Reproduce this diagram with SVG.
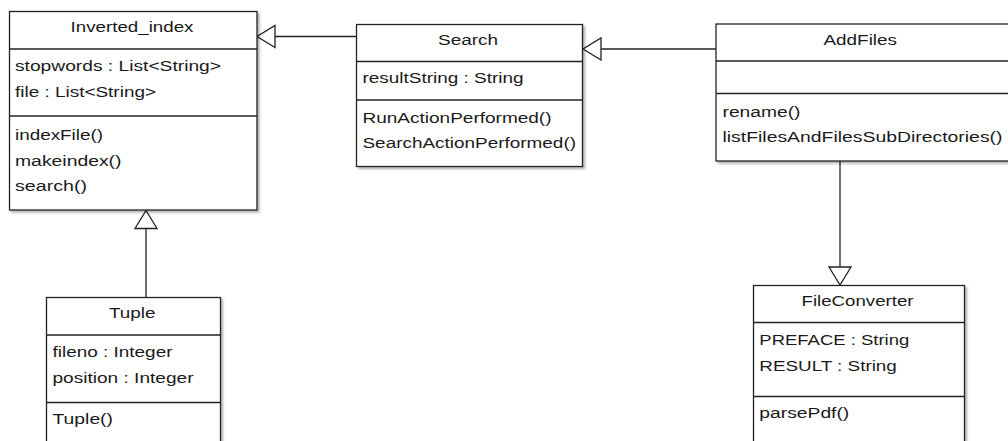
<svg xmlns="http://www.w3.org/2000/svg" width="1008" height="441" viewBox="0 0 1008 441">
  <defs>
    <filter id="shadow" x="-5%" y="-5%" width="115%" height="115%">
      <feDropShadow dx="2" dy="2" stdDeviation="1" flood-color="#000" flood-opacity="0.3"/>
    </filter>
    <!-- hollow triangle for generalization -->
    <marker id="inherit" viewBox="0 0 18 22" refX="18" refY="11" markerWidth="18" markerHeight="22"
            markerUnits="userSpaceOnUse" orient="auto" overflow="visible">
      <path d="M0,0 L18,11 L0,22 Z" fill="#fff" stroke="#222" stroke-width="1.3"/>
    </marker>
  </defs>
  <style>
    .box { fill: #fff; stroke: #222; stroke-width: 1.3; filter: url(#shadow); }
    .sep { stroke: #222; stroke-width: 1.3; }
    .edge { fill: none; stroke: #222; stroke-width: 1.3; marker-end: url(#inherit); }
    text { font-family: "Liberation Sans", Arial, sans-serif; font-size: 14px; fill: #1a1a1a; }
  </style>

  <rect width="1008" height="441" fill="#fff"/>

  <!-- connectors -->
  <g id="connectors">
    <path class="edge" d="M356.5,36.5 H257"/>
    <path class="edge" d="M716,49 H583"/>
    <path class="edge" d="M146,297.5 V210.5"/>
    <path class="edge" d="M840,161 V285"/>
  </g>

  <g id="inverted_index">
    <rect class="box" x="9.5" y="11.5" width="247.5" height="198.5"/>
    <line class="sep" x1="9.5" y1="49" x2="257" y2="49"/>
    <line class="sep" x1="9.5" y1="116" x2="257" y2="116"/>
    <text x="70.5" y="32.3" textLength="123" lengthAdjust="spacingAndGlyphs">Inverted_index</text>
    <text x="15" y="70.5" textLength="206" lengthAdjust="spacingAndGlyphs">stopwords : List&lt;String&gt;</text>
    <text x="15" y="96.5" textLength="141" lengthAdjust="spacingAndGlyphs">file : List&lt;String&gt;</text>
    <text x="15" y="139.5" textLength="88" lengthAdjust="spacingAndGlyphs">indexFile()</text>
    <text x="15" y="165.7" textLength="106.5" lengthAdjust="spacingAndGlyphs">makeindex()</text>
    <text x="15" y="190.5" textLength="72" lengthAdjust="spacingAndGlyphs">search()</text>
  </g>

  <g id="search">
    <rect class="box" x="356.5" y="24.5" width="226" height="142"/>
    <line class="sep" x1="356.5" y1="61.5" x2="582.5" y2="61.5"/>
    <line class="sep" x1="356.5" y1="100" x2="582.5" y2="100"/>
    <text x="438" y="45" textLength="60" lengthAdjust="spacingAndGlyphs">Search</text>
    <text x="362.5" y="83" textLength="161" lengthAdjust="spacingAndGlyphs">resultString : String</text>
    <text x="362.5" y="123" textLength="189" lengthAdjust="spacingAndGlyphs">RunActionPerformed()</text>
    <text x="362.5" y="148" textLength="213.5" lengthAdjust="spacingAndGlyphs">SearchActionPerformed()</text>
  </g>

  <g id="addfiles">
    <rect class="box" x="716" y="24" width="310" height="137"/>
    <line class="sep" x1="716" y1="61" x2="1026" y2="61"/>
    <line class="sep" x1="716" y1="93.5" x2="1026" y2="93.5"/>
    <text x="823.5" y="45" textLength="73.5" lengthAdjust="spacingAndGlyphs">AddFiles</text>
    <text x="722.5" y="116.5" textLength="78" lengthAdjust="spacingAndGlyphs">rename()</text>
    <text x="722.5" y="141.5" textLength="280" lengthAdjust="spacingAndGlyphs">listFilesAndFilesSubDirectories()</text>
  </g>

  <g id="tuple">
    <rect class="box" x="46.5" y="297.5" width="174" height="160"/>
    <line class="sep" x1="46.5" y1="335" x2="220.5" y2="335"/>
    <line class="sep" x1="46.5" y1="402.5" x2="220.5" y2="402.5"/>
    <text x="109" y="318.3" textLength="46.5" lengthAdjust="spacingAndGlyphs">Tuple</text>
    <text x="52.5" y="356.5" textLength="120" lengthAdjust="spacingAndGlyphs">fileno : Integer</text>
    <text x="52.5" y="382.5" textLength="141" lengthAdjust="spacingAndGlyphs">position : Integer</text>
    <text x="52.5" y="424" textLength="60.5" lengthAdjust="spacingAndGlyphs">Tuple()</text>
  </g>

  <g id="fileconverter">
    <rect class="box" x="753.5" y="285.5" width="211" height="172"/>
    <line class="sep" x1="753.5" y1="322.5" x2="964.5" y2="322.5"/>
    <line class="sep" x1="753.5" y1="396.5" x2="964.5" y2="396.5"/>
    <text x="801.5" y="306" textLength="112" lengthAdjust="spacingAndGlyphs">FileConverter</text>
    <text x="759.3" y="345" textLength="150" lengthAdjust="spacingAndGlyphs">PREFACE : String</text>
    <text x="759.3" y="370.7" textLength="137.5" lengthAdjust="spacingAndGlyphs">RESULT : String</text>
    <text x="759.3" y="418" textLength="90" lengthAdjust="spacingAndGlyphs">parsePdf()</text>
  </g>
</svg>
